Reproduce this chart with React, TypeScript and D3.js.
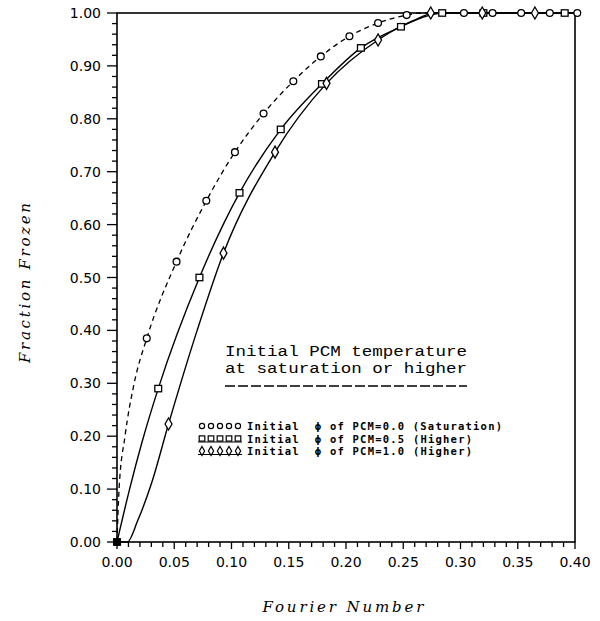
import React from "react";
import * as d3 from "d3";

// ---- data ----
const xTickValues = [0, 0.05, 0.1, 0.15, 0.2, 0.25, 0.3, 0.35, 0.4];
const xTickLabels = ["0.00", "0.05", "0.10", "0.15", "0.20", "0.25", "0.30", "0.35", "0.40"];
const yTickValues = [0, 0.1, 0.2, 0.3, 0.4, 0.5, 0.6, 0.7, 0.8, 0.9, 1.0];
const yTickLabels = ["0.00", "0.10", "0.20", "0.30", "0.40", "0.50", "0.60", "0.70", "0.80", "0.90", "1.00"];

// curve of PCM=0.0 (saturation), dashed
const curveSatX = [0, 0.0018, 0.007, 0.015, 0.026, 0.052, 0.078, 0.103, 0.128, 0.154, 0.178, 0.203, 0.228, 0.253, 0.265, 0.4];
const curveSatY = [0, 0.1, 0.2, 0.3, 0.385, 0.53, 0.645, 0.737, 0.81, 0.871, 0.918, 0.956, 0.981, 0.996, 1.0, 1.0];
// curve of PCM=0.5 (higher), solid
const curveHalfX = [0, 0.011, 0.022, 0.036, 0.072, 0.107, 0.143, 0.179, 0.213, 0.248, 0.272, 0.285, 0.4];
const curveHalfY = [0, 0.1, 0.19, 0.29, 0.5, 0.66, 0.78, 0.866, 0.934, 0.974, 0.995, 1.0, 1.0];
// curve of PCM=1.0 (higher), solid
const curveOneX = [0, 0.009, 0.018, 0.03, 0.045, 0.07, 0.093, 0.138, 0.183, 0.228, 0.258, 0.278, 0.4];
const curveOneY = [0, 0, 0.04, 0.11, 0.223, 0.4, 0.546, 0.737, 0.867, 0.949, 0.985, 1.0, 1.0];

// markers
const circleX = [0, 0.026, 0.052, 0.078, 0.103, 0.128, 0.154, 0.178, 0.203, 0.228, 0.253, 0.303, 0.328, 0.353, 0.378, 0.402];
const circleY = [0, 0.385, 0.53, 0.645, 0.737, 0.81, 0.871, 0.918, 0.956, 0.981, 0.996, 1, 1, 1, 1, 1];
const squareX = [0, 0.036, 0.072, 0.107, 0.143, 0.179, 0.213, 0.248, 0.284, 0.32, 0.391];
const squareY = [0, 0.29, 0.5, 0.66, 0.78, 0.866, 0.934, 0.974, 1, 1, 1];
const diamondX = [0.045, 0.093, 0.138, 0.183, 0.228, 0.274, 0.319, 0.365];
const diamondY = [0.223, 0.546, 0.737, 0.867, 0.949, 1, 1, 1];

const legendTitle = ["Initial PCM temperature", "at saturation or higher"];
const legendRows = [
  { kind: "circle", text: "Initial  ϕ of PCM=0.0 (Saturation)" },
  { kind: "square", text: "Initial  ϕ of PCM=0.5 (Higher)" },
  { kind: "diamond", text: "Initial  ϕ of PCM=1.0 (Higher)" },
];

const W = 600;
const H = 621;
const x = d3.scaleLinear().domain([0, 0.4]).range([117, 575]);
const y = d3.scaleLinear().domain([0, 1]).range([542, 13]);

const zip = (xs: number[], ys: number[]) => xs.map((v, i) => [v, ys[i]] as [number, number]);

const line = d3
  .line<[number, number]>()
  .x((d) => x(d[0]))
  .y((d) => y(d[1]))
  .curve(d3.curveMonotoneX);

const diamondPath = d3.symbol().type(d3.symbolDiamond).size(42)() as string;
const smallDiamond = d3.symbol().type(d3.symbolDiamond).size(24)() as string;

function Marker({ kind, cx, cy, filled }: { kind: string; cx: number; cy: number; filled?: boolean }) {
  const fill = filled ? "#000" : "#fff";
  if (kind === "circle") return <circle cx={cx} cy={cy} r={3.4} fill={fill} stroke="#000" strokeWidth={1.3} />;
  if (kind === "square")
    return <rect x={cx - 3.4} y={cy - 3.2} width={6.8} height={6.4} fill={fill} stroke="#000" strokeWidth={1.3} />;
  return <path d={diamondPath} transform={`translate(${cx},${cy})`} fill={fill} stroke="#000" strokeWidth={1.3} />;
}

export default function App() {
  const minorY = d3.range(0, 51).map((i) => i / 50);
  const minorX = d3.range(0, 41).map((i) => i / 100);
  const tickFont = "'DejaVu Sans', sans-serif";
  return (
    <svg width={W} height={H} style={{ position: "absolute", left: 0, top: 0, background: "#fff" }}>
      <rect x={0} y={0} width={W} height={H} fill="#fff" />
      {/* frame */}
      <rect x={x(0)} y={y(1)} width={x(0.4) - x(0)} height={y(0) - y(1)} fill="none" stroke="#000" strokeWidth={1.6} />
      {/* y ticks */}
      {minorY.map((v, i) => (
        <line key={"ym" + i} x1={x(0) - (i % 5 === 0 ? 10 : 5)} x2={x(0)} y1={y(v)} y2={y(v)} stroke="#000" strokeWidth={1.3} />
      ))}
      {yTickValues.map((v, i) => (
        <text key={"yl" + i} x={101} y={y(v)} dy="0.36em" textAnchor="end" fontFamily={tickFont} fontSize={14} fill="#000">
          {yTickLabels[i]}
        </text>
      ))}
      {/* x ticks */}
      {minorX.map((v, i) => (
        <line key={"xm" + i} x1={x(v)} x2={x(v)} y1={y(0)} y2={y(0) + (i % 5 === 0 ? 7 : 5)} stroke="#000" strokeWidth={1.3} />
      ))}
      {xTickValues.map((v, i) => (
        <text key={"xl" + i} x={x(v)} y={567} textAnchor="middle" fontFamily={tickFont} fontSize={14} fill="#000">
          {xTickLabels[i]}
        </text>
      ))}
      {/* axis titles */}
      <text
        x={30}
        y={283}
        transform="rotate(-90 30 283)"
        textAnchor="middle"
        fontFamily="'DejaVu Serif', serif"
        fontStyle="italic"
        fontSize={15}
        textLength={160}
        lengthAdjust="spacing"
      >
        Fraction Frozen
      </text>
      <text
        x={343}
        y={612}
        textAnchor="middle"
        fontFamily="'DejaVu Serif', serif"
        fontStyle="italic"
        fontSize={15}
        textLength={161}
        lengthAdjust="spacing"
      >
        Fourier Number
      </text>
      {/* curves */}
      <path d={line(zip(curveSatX, curveSatY)) as string} fill="none" stroke="#000" strokeWidth={1.3} strokeDasharray="5 4" />
      <path d={line(zip(curveHalfX, curveHalfY)) as string} fill="none" stroke="#000" strokeWidth={1.4} />
      <path d={line(zip(curveOneX, curveOneY)) as string} fill="none" stroke="#000" strokeWidth={1.4} />
      {/* markers */}
      {squareX.map((v, i) => (
        <Marker key={"s" + i} kind="square" cx={x(v)} cy={y(squareY[i])} filled={i === 0} />
      ))}
      {diamondX.map((v, i) => (
        <Marker key={"d" + i} kind="diamond" cx={x(v)} cy={y(diamondY[i])} />
      ))}
      {circleX.map((v, i) => (
        <Marker key={"c" + i} kind="circle" cx={x(v)} cy={y(circleY[i])} filled={i === 0} />
      ))}
      {/* legend title */}
      {legendTitle.map((t, i) => (
        <text
          key={"lt" + i}
          x={225}
          y={356 + i * 17}
          fontFamily="'Liberation Mono', monospace"
          fontSize={15.5}
          textLength={242}
          lengthAdjust="spacingAndGlyphs"
          fill="#000"
        >
          {t}
        </text>
      ))}
      <line x1={225} x2={467} y1={386} y2={386} stroke="#000" strokeWidth={1.5} strokeDasharray="10 3" />
      {/* legend rows */}
      {legendRows.map((r, i) => {
        const cy = 426 + i * 12.5;
        return (
          <g key={"lr" + i}>
            {r.kind !== "circle" && <line x1={198} x2={242} y1={cy + 3.5} y2={cy + 3.5} stroke="#000" strokeWidth={1.2} />}
            {d3.range(5).map((k) => {
              const cx = 202 + k * 9;
              if (r.kind === "circle") return <circle key={k} cx={cx} cy={cy} r={2.6} fill="#fff" stroke="#000" strokeWidth={1.2} />;
              if (r.kind === "square")
                return <rect key={k} x={cx - 2.8} y={cy - 2.6} width={5.6} height={5.2} fill="#fff" stroke="#000" strokeWidth={1.2} />;
              return (
                <path key={k} d={smallDiamond} transform={`translate(${cx},${cy})`} fill="#fff" stroke="#000" strokeWidth={1.2} />
              );
            })}
            <text
              x={247}
              y={cy + 4}
              fontFamily="'DejaVu Sans Mono', monospace"
              fontWeight="bold"
              fontSize={10.5}
              textLength={r.text.length * 7.5}
              lengthAdjust="spacing"
              fill="#000"
              style={{ whiteSpace: "pre" }}
            >
              {r.text}
            </text>
          </g>
        );
      })}
    </svg>
  );
}
